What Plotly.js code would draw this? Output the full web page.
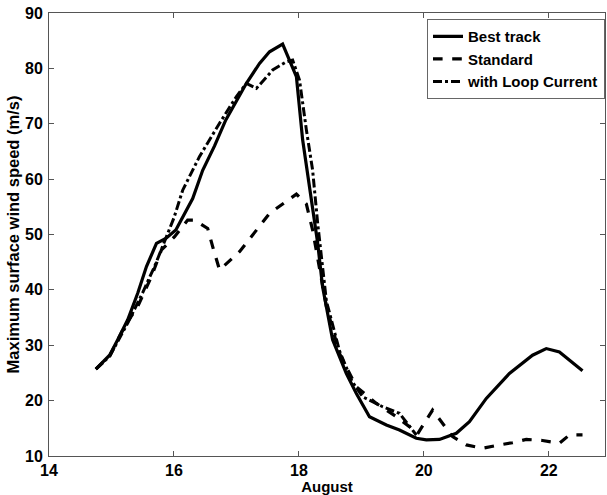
<!DOCTYPE html>
<html><head><meta charset="utf-8">
<script src="https://cdn.plot.ly/plotly-3.0.1.min.js"></script>
<style>html,body{margin:0;padding:0;background:#fff}#chart{width:607px;height:495px}</style>
</head><body><div id="chart"></div>
<script>
const bestX = [14.75,14.97,15.10,15.26,15.42,15.56,15.72,15.87,16.03,16.15,16.30,16.46,16.65,16.83,17.00,17.16,17.37,17.53,17.74,17.96,18.06,18.20,18.30,18.38,18.54,18.76,18.92,19.13,19.40,19.61,19.88,20.04,20.25,20.52,20.73,21.00,21.37,21.74,21.96,22.17,22.54];
const bestY = [25.7,28.2,31.0,34.6,39.4,44.2,48.4,49.3,50.8,53.2,56.5,61.6,66.0,70.7,74.0,77.3,80.9,83.0,84.4,78.5,67.1,56.8,48.5,40.5,31.0,24.9,21.3,17.1,15.6,14.7,13.2,12.9,13.0,14.1,16.2,20.4,24.9,28.2,29.4,28.8,25.4];

const stdX = [14.75,14.97,15.21,15.42,15.64,15.80,16.01,16.22,16.33,16.54,16.62,16.73,17.05,17.53,17.96,18.12,18.22,18.30,18.44,18.65,18.92,19.24,19.56,19.77,19.90,20.14,20.46,20.68,20.94,21.21,21.42,21.64,21.90,22.17,22.33,22.54];
const stdY = [25.7,28.0,33.4,37.0,42.4,47.2,49.6,52.6,52.6,51.1,47.8,43.6,46.9,53.8,57.3,55.5,50.8,46.0,37.0,28.5,22.5,19.5,17.1,15.3,14.0,18.3,13.5,12.0,11.4,12.0,12.4,13.0,12.8,12.3,13.8,13.8];

const loopX = [14.75,14.97,15.26,15.50,15.70,15.87,16.00,16.14,16.41,16.73,17.00,17.16,17.32,17.58,17.80,17.90,18.01,18.12,18.22,18.30,18.44,18.65,18.85,19.02,19.34,19.61,19.88];
const loopY = [25.7,28.0,34.0,39.5,44.5,49.3,53.0,58.0,64.1,70.1,74.9,77.3,76.4,79.7,81.2,81.5,77.9,68.9,61.6,52.1,38.0,29.0,23.5,20.7,18.9,17.7,13.8];

const names = ['Best track','Standard','with Loop Current'];
const fam = 'Liberation Sans, Arial, sans-serif';
const tickFont = {family:fam, size:16, color:'#000', weight:'bold'};
const xTitleFont = {family:fam, size:15, color:'#000', weight:'bold'};
const yTitleFont = {family:fam, size:16.5, color:'#000', weight:'bold'};

const traces = [
  {x:bestX, y:bestY, name:names[0], mode:'lines', line:{color:'#000', width:3.2}},
  {x:stdX, y:stdY, name:names[1], mode:'lines', line:{color:'#000', width:3.2, dash:'dash'}},
  {x:loopX, y:loopY, name:names[2], mode:'lines', line:{color:'#000', width:3, dash:'dashdot'}}
];

const axisCommon = {showgrid:false, zeroline:false, showline:true, linecolor:'#555', linewidth:1,
  mirror:'ticks', ticks:'inside', ticklen:5, tickcolor:'#555', tickfont:tickFont};

const layout = {
  width:607, height:495,
  margin:{l:49, r:2, t:13, b:39},
  paper_bgcolor:'#fff', plot_bgcolor:'#fff',
  font:tickFont,
  showlegend:true,
  legend:{x:1, xanchor:'right', y:0.986, yanchor:'top', bgcolor:'#fff', bordercolor:'#666', borderwidth:1,
    font:{family:fam, size:15, color:'#000', weight:'bold'}, tracegroupgap:0, itemwidth:30},
  xaxis:Object.assign({}, axisCommon, {range:[14,22.9], tickvals:[14,16,18,20,22], ticklabelstandoff:0,
    title:{text:'August', font:xTitleFont, standoff:0}}),
  yaxis:Object.assign({}, axisCommon, {range:[10,90], tickvals:[10,20,30,40,50,60,70,80,90], ticklabelstandoff:2,
    title:{text:'Maximum surface wind speed (m/s)', font:yTitleFont, standoff:1}})
};
Plotly.newPlot('chart', traces, layout, {displayModeBar:false, staticPlot:true});
</script></body></html>
